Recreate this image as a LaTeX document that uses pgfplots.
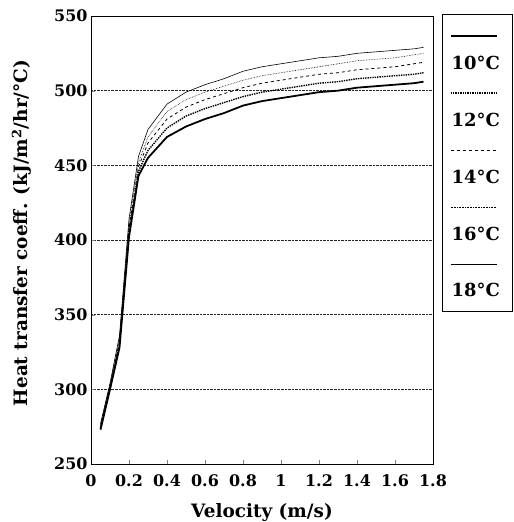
\documentclass[border=0pt]{standalone}
\usepackage{fontspec}
\setmainfont{DejaVu Serif}
\usepackage{pgfplots}
\pgfplotsset{compat=1.18}

% velocity (m/s) vs heat transfer coeff. for five water temperatures
\pgfplotstableread{
v     t10  t12  t14  t16  t18
0.05  273  274  275  276  277
0.10  300  301  302  303  304
0.15  328  330  332  334  336
0.20  402  405  408  411  414
0.25  443  446  449  452  456
0.30  455  460  465  469  474
0.40  469  475  481  486  491
0.50  476  483  489  494  499
0.60  481  488  494  499  504
0.70  485  492  498  503  508
0.80  490  496  502  507  513
0.90  493  499  505  510  516
1.00  495  501  507  512  518
1.10  497  503  509  514  520
1.20  499  505  511  516  522
1.30  500  506  512  518  523
1.40  502  508  514  520  525
1.50  503  509  515  521  526
1.60  504  510  516  522  527
1.70  505  511  518  524  528
1.75  506  512  519  525  529
}\datatable

\begin{document}
\begin{tikzpicture}[x=1bp,y=1bp]
\begin{axis}[
    scale only axis,
    width=342bp, height=448bp,
    xmin=0, xmax=1.8, ymin=250, ymax=550,
    xtick={0,0.2,...,1.8},
    ytick={250,300,...,550},
    xticklabels={0,0.2,0.4,0.6,0.8,1,1.2,1.4,1.6,1.8},
    /pgf/number format/assume math mode=true,
    tick label style={font=\bfseries\fontsize{16}{18}\selectfont},
    xticklabel style={yshift=-7bp},
    label style={font=\bfseries\fontsize{18.5}{20}\selectfont},
    tick align=inside,
    xtick pos=bottom, ytick pos=left,
    major tick length=4bp,
    ymajorgrids,
    grid style={densely dotted, black!85, line width=0.4pt},
    axis line style={line width=0.8pt},
    xlabel={Velocity (m/s)},
    ylabel={Heat transfer coeff. (kJ/m\textsuperscript{2}/hr/°C)},
    xlabel style={yshift=-10bp},
    ylabel style={yshift=16bp, xshift=7bp},
    legend style={at={(1,1)}, anchor=north west, xshift=9bp, yshift=2bp,
        draw=none,
        row sep=8.5bp, inner xsep=7.5bp, inner ysep=10bp,
        font=\bfseries\fontsize{18}{20}\selectfont},
    legend cell align=left,
    legend image code/.code={
        \useasboundingbox[draw=none] (0bp,0bp) rectangle (0bp,39bp);
        \draw[#1,overlay] (1bp,27bp) -- (47bp,27bp);},
]
\addplot[black, line width=1.8pt] table[x=v, y=t10] {\datatable};
\addplot[black, line width=1.4pt, densely dotted] table[x=v, y=t12] {\datatable};
\addplot[black, line width=0.8pt, dashed] table[x=v, y=t14] {\datatable};
\addplot[black, line width=0.6pt, densely dotted] table[x=v, y=t16] {\datatable};
\addplot[black, line width=0.6pt] table[x=v, y=t18] {\datatable};
\legend{10°C,12°C,14°C,16°C,18°C}
\end{axis}
% frame of the legend, drawn apart so its width does not pass to the samples
\draw[line width=0.9pt] (current axis.north east) ++(9bp,2bp) rectangle ++(70bp,-297bp);
\pgfresetboundingbox
\useasboundingbox (-91bp,-58bp) rectangle (423bp,464bp);
\end{tikzpicture}
\end{document}
